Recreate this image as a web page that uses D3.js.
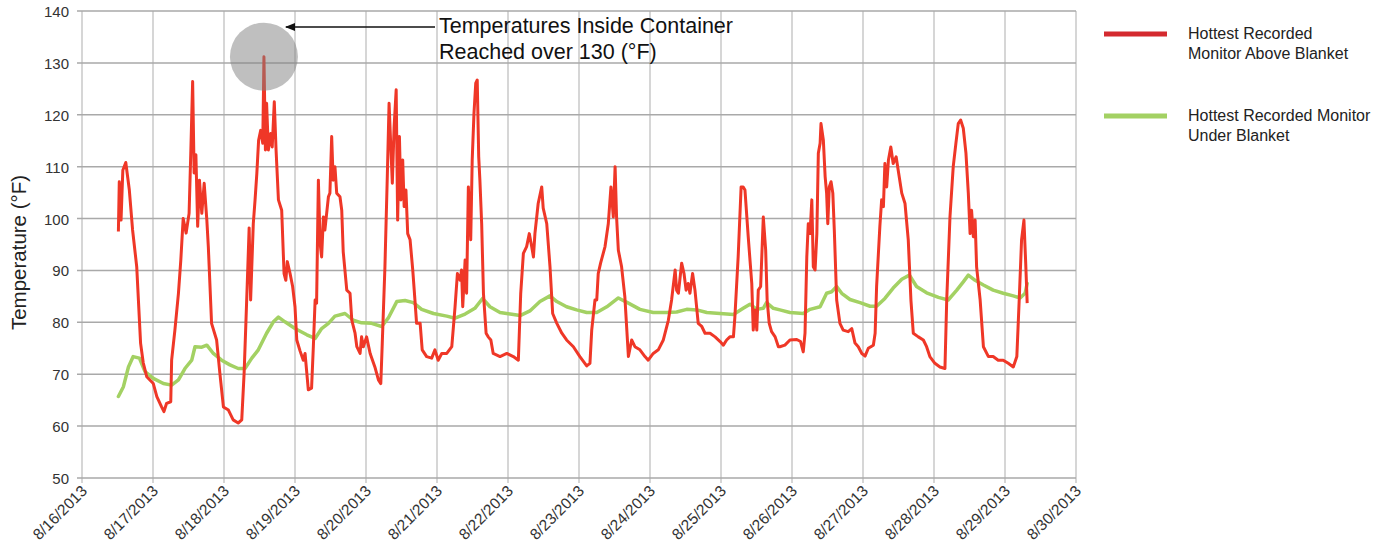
<!DOCTYPE html>
<html>
<head>
<meta charset="utf-8">
<script src="https://cdn.jsdelivr.net/npm/d3@7"></script>
<style>
  body { margin: 0; background: #fff; }
  svg { font-family: "Helvetica Neue", Helvetica, "Liberation Sans", Arial, sans-serif; }
</style>
</head>
<body>
<div id="chart"></div>
<script>
// hours since 8/16/2013 00:00, temperature (°F)
const startDate = new Date(2013, 7, 16);
const endDate = new Date(2013, 7, 30);
const yTicks = [50, 60, 70, 80, 90, 100, 110, 120, 130, 140];

const aboveBlanket = [
  [12.3, 97.5], [12.6, 107.1], [13.2, 99.7], [13.8, 109.3], [14.8, 110.8], [16.0, 105.5], [17.1, 97.8],
  [18.5, 90.7], [19.8, 76.0], [20.7, 72.2], [21.9, 69.5], [24.1, 68.2], [25.3, 65.7], [26.9, 63.7],
  [27.7, 62.8], [28.6, 64.4], [30.0, 64.7], [30.3, 72.7], [31.4, 78.5], [32.6, 85.6], [33.4, 92.0],
  [34.2, 100.0], [35.2, 97.2], [36.2, 101.0], [36.8, 113.2], [37.4, 126.4], [37.9, 108.8], [38.5, 112.3],
  [39.1, 98.5], [39.7, 107.4], [40.5, 101.0], [41.3, 106.8], [42.2, 99.7], [42.7, 94.6], [43.8, 79.8],
  [45.5, 76.6], [46.6, 70.2], [47.8, 63.7], [49.5, 63.1], [51.1, 61.2], [52.8, 60.6], [54.0, 61.2],
  [54.8, 70.2], [55.4, 79.9], [55.9, 88.1], [56.5, 98.2], [57.0, 84.3], [57.9, 99.0], [58.5, 103.6],
  [59.1, 108.7], [59.7, 115.1], [60.4, 117.0], [61.1, 114.5], [61.5, 131.2], [62.0, 113.2], [62.4, 122.2],
  [63.0, 113.2], [63.8, 116.4], [64.3, 113.8], [65.0, 122.5], [65.6, 113.2], [66.4, 103.6], [67.5, 101.6],
  [68.3, 89.4], [68.9, 88.1], [69.4, 91.7], [70.3, 89.5], [71.2, 86.9], [72.0, 83.0], [72.6, 76.6],
  [73.7, 74.5], [74.8, 72.7], [75.4, 74.0], [76.5, 67.0], [77.6, 67.3], [78.2, 75.3], [78.8, 84.3],
  [79.3, 83.7], [79.9, 107.4], [80.5, 95.2], [81.0, 92.6], [81.6, 100.3], [82.1, 97.8], [82.7, 101.0],
  [83.3, 104.2], [83.8, 104.9], [84.4, 115.8], [84.9, 107.4], [85.5, 110.0], [86.1, 104.9], [87.2, 104.2],
  [87.8, 101.6], [88.3, 93.6], [89.5, 86.2], [90.6, 85.6], [91.2, 80.4], [92.3, 77.9], [92.9, 75.3],
  [94.0, 74.0], [94.5, 77.2], [95.1, 75.3], [96.2, 77.2], [97.4, 74.0], [99.0, 71.4], [100.2, 68.9],
  [101.0, 68.2], [101.5, 76.0], [102.4, 90.7], [103.2, 108.1], [103.8, 122.2], [104.3, 115.1], [104.9, 106.8],
  [105.5, 117.7], [106.2, 124.8], [106.7, 99.7], [107.3, 115.8], [107.8, 103.6], [108.4, 111.3], [108.9, 102.3],
  [109.5, 105.5], [110.1, 97.1], [110.9, 95.9], [111.8, 90.1], [112.3, 86.2], [113.1, 79.8], [114.3, 79.8],
  [115.0, 74.7], [116.5, 73.4], [118.2, 73.1], [119.3, 74.7], [120.4, 72.7], [121.6, 74.0], [123.3, 74.0],
  [125.0, 75.3], [126.1, 83.0], [126.9, 89.4], [127.8, 88.1], [128.3, 90.1], [128.7, 83.0], [129.5, 92.0],
  [130.0, 85.6], [130.6, 106.1], [131.4, 95.9], [131.9, 111.3], [132.5, 120.3], [133.1, 126.1], [133.6, 126.7],
  [134.1, 111.9], [134.5, 107.4], [135.1, 99.0], [135.7, 85.6], [136.6, 77.9], [137.3, 77.2], [138.2, 76.6],
  [139.0, 74.0], [141.3, 73.4], [143.6, 74.0], [145.8, 73.4], [147.5, 72.7], [148.3, 85.6], [149.2, 93.3],
  [150.3, 94.6], [151.2, 97.1], [152.0, 94.6], [152.6, 92.6], [153.1, 97.1], [154.2, 102.9], [155.4, 106.1],
  [155.9, 102.0], [157.1, 99.0], [158.2, 90.7], [159.1, 81.7], [160.5, 79.8], [162.2, 77.9], [163.8, 76.6],
  [166.1, 75.3], [168.3, 73.4], [170.6, 71.6], [171.7, 72.1], [172.3, 78.5], [173.4, 84.3], [174.0, 84.3],
  [174.5, 89.4], [175.3, 91.4], [176.8, 94.6], [177.9, 99.0], [178.8, 106.1], [179.6, 100.3], [180.2, 110.0],
  [180.7, 100.3], [181.3, 93.9], [182.4, 90.7], [183.5, 84.9], [184.7, 73.4], [185.8, 76.6], [186.9, 75.3],
  [188.6, 74.7], [190.3, 73.4], [191.4, 72.7], [193.1, 74.0], [194.8, 74.7], [196.5, 76.6], [198.2, 80.4],
  [199.3, 84.3], [200.5, 90.1], [201.0, 86.2], [201.6, 85.6], [202.7, 91.4], [203.5, 89.4], [204.2, 86.2],
  [204.9, 87.5], [205.5, 85.6], [206.4, 89.4], [207.2, 86.2], [208.3, 79.8], [209.5, 79.2], [210.6, 77.9],
  [212.3, 77.9], [214.0, 77.2], [215.7, 76.3], [216.8, 75.6], [217.9, 76.6], [219.0, 77.2], [220.2, 77.2],
  [220.7, 81.1], [221.8, 92.6], [222.8, 106.1], [223.5, 106.1], [224.1, 105.5], [225.2, 96.5], [226.4, 87.5],
  [226.9, 78.5], [227.5, 82.4], [228.1, 78.5], [228.6, 86.2], [229.4, 86.9], [230.3, 100.3], [231.1, 93.9],
  [231.6, 84.3], [232.3, 79.8], [233.1, 78.2], [234.3, 77.2], [235.4, 75.3], [235.9, 75.3], [237.6, 75.6],
  [239.3, 76.6], [241.6, 76.7], [242.9, 76.3], [243.8, 74.3], [244.4, 77.9], [245.0, 92.6], [245.5, 99.0],
  [246.1, 97.1], [246.7, 103.6], [247.2, 90.7], [247.8, 90.1], [248.4, 97.1], [248.9, 112.6], [249.5, 114.5],
  [249.8, 118.3], [250.6, 115.1], [251.2, 108.1], [251.7, 104.9], [252.1, 99.0], [252.6, 106.1], [253.2, 107.1],
  [253.8, 104.9], [254.3, 97.8], [255.1, 84.3], [256.2, 79.8], [257.3, 78.5], [259.0, 78.2], [260.2, 78.8],
  [261.3, 76.0], [262.4, 75.3], [263.6, 74.0], [264.7, 73.5], [265.8, 75.0], [267.5, 75.6], [268.1, 77.9],
  [268.6, 86.9], [269.7, 98.5], [270.3, 103.6], [270.9, 102.3], [271.4, 110.6], [272.0, 106.1], [272.6, 111.3],
  [273.4, 113.8], [274.2, 110.6], [275.2, 111.9], [275.9, 109.3], [277.1, 104.9], [278.2, 102.9], [279.3, 95.9],
  [280.2, 84.3], [281.0, 77.9], [282.7, 77.2], [284.4, 76.6], [285.5, 75.3], [286.6, 73.4], [288.3, 72.1],
  [290.0, 71.4], [291.7, 71.1], [292.3, 84.3], [293.4, 100.3], [294.5, 110.0], [295.4, 114.5], [296.2, 118.3],
  [297.0, 119.0], [297.9, 117.4], [298.8, 112.6], [299.6, 104.9], [300.2, 97.1], [300.7, 101.6], [301.3, 96.5],
  [301.9, 99.7], [302.4, 90.7], [303.6, 84.3], [304.7, 75.3], [306.4, 73.4], [308.0, 73.4], [309.7, 72.7],
  [311.4, 72.7], [313.1, 72.1], [314.8, 71.4], [316.0, 73.4], [316.8, 84.3], [317.6, 95.9], [318.4, 99.7],
  [319.0, 91.4], [319.5, 83.7]
];

const underBlanket = [
  [12.3, 65.7], [14.0, 67.6], [15.7, 71.4], [17.3, 73.4], [19.4, 73.1], [21.3, 70.5], [24.1, 69.2],
  [27.5, 68.2], [30.3, 67.9], [32.6, 68.9], [34.8, 71.1], [37.1, 72.7], [38.2, 75.3], [40.5, 75.2],
  [42.2, 75.6], [44.4, 74.0], [47.2, 72.7], [50.0, 71.8], [52.8, 71.1], [55.1, 71.1], [57.4, 73.1],
  [59.6, 74.7], [62.4, 77.9], [64.7, 80.1], [66.4, 81.0], [68.6, 80.1], [72.0, 78.8], [76.0, 77.6],
  [78.8, 76.9], [81.0, 78.8], [83.3, 79.8], [85.5, 81.2], [88.9, 81.7], [91.7, 80.4], [94.5, 79.9],
  [97.9, 79.8], [101.3, 79.2], [103.5, 80.8], [106.4, 84.0], [109.2, 84.2], [112.0, 83.8], [114.8, 82.5],
  [118.8, 81.7], [123.3, 81.2], [126.1, 80.8], [129.5, 81.6], [132.8, 82.7], [135.4, 84.6], [137.9, 83.0],
  [141.3, 81.9], [144.7, 81.6], [148.1, 81.3], [151.4, 82.2], [154.8, 84.0], [158.2, 85.1], [160.5, 84.0],
  [163.8, 83.0], [167.2, 82.4], [170.6, 81.9], [174.0, 81.9], [177.4, 83.0], [181.3, 84.7], [184.7, 83.7],
  [188.6, 82.5], [193.1, 81.9], [197.6, 81.9], [201.0, 82.0], [204.4, 82.5], [207.8, 82.4], [211.2, 81.9],
  [215.7, 81.7], [220.2, 81.5], [223.5, 82.7], [225.8, 83.5], [228.1, 82.5], [230.3, 82.7], [231.4, 83.8],
  [233.7, 82.7], [235.9, 82.4], [239.3, 81.9], [243.8, 81.7], [246.1, 82.5], [249.5, 83.0], [251.7, 85.6],
  [253.4, 85.9], [255.1, 86.9], [256.8, 85.6], [259.6, 84.4], [263.0, 83.8], [266.4, 83.1], [268.6, 83.1],
  [271.4, 84.6], [274.2, 86.6], [277.1, 88.3], [279.7, 89.1], [282.1, 86.9], [285.5, 85.7], [289.5, 84.8],
  [292.8, 84.3], [295.7, 86.2], [297.9, 87.8], [299.6, 89.1], [301.9, 88.1], [304.7, 87.2], [308.0, 86.2],
  [311.4, 85.6], [314.8, 85.1], [317.1, 84.7], [318.8, 85.6], [319.5, 87.5]
];

const seriesNames = ["Hottest Recorded\nMonitor Above Blanket", "Hottest Recorded Monitor\nUnder Blanket"];
const peakNote = ["Temperatures Inside Container", "Reached over 130 (°F)"];

const W = 1394, H = 553;
const margin = { top: 11, left: 82, right: 318, bottom: 75 };
const innerW = W - margin.left - margin.right;
const innerH = H - margin.top - margin.bottom;

const toDate = h => new Date(startDate.getTime() + h * 3600000);

const svg = d3.select("#chart").append("svg")
    .attr("width", W)
    .attr("height", H);

const x = d3.scaleTime().domain([startDate, endDate]).range([margin.left, margin.left + innerW]);
const y = d3.scaleLinear().domain([50, 140]).range([margin.top + innerH, margin.top]);
const days = d3.timeDay.range(startDate, d3.timeDay.offset(endDate, 1));

// gridlines
svg.append("g").selectAll("line").data(days).join("line")
    .attr("x1", d => x(d)).attr("x2", d => x(d))
    .attr("y1", y(140)).attr("y2", y(50) + 5)
    .attr("stroke", "#c9c9c9").attr("stroke-width", 1.5);

svg.append("g").selectAll("line").data(yTicks).join("line")
    .attr("x1", x(startDate) - 5).attr("x2", x(endDate))
    .attr("y1", d => y(d)).attr("y2", d => y(d))
    .attr("stroke", "#a9a9a9").attr("stroke-width", 1.5);

// y tick labels
svg.append("g").selectAll("text").data(yTicks).join("text")
    .attr("x", x(startDate) - 13).attr("y", d => y(d) + 6)
    .attr("text-anchor", "end")
    .attr("font-size", 15).attr("fill", "#333")
    .text(d => d);

// x tick labels
const fmt = d3.timeFormat("%-m/%-d/%Y");
svg.append("g").selectAll("text").data(days).join("text")
    .attr("transform", d => `translate(${x(d) + 6},${y(50) + 14}) rotate(-45)`)
    .attr("text-anchor", "end")
    .attr("font-size", 15.5).attr("fill", "#333")
    .text(d => fmt(d));

svg.append("text")
    .attr("transform", `translate(26,${margin.top + innerH / 2 + 8}) rotate(-90)`)
    .attr("text-anchor", "middle")
    .attr("font-size", 20.5).attr("fill", "#222")
    .text("Temperature (°F)");

// lines
const line = d3.line().x(d => x(toDate(d[0]))).y(d => y(d[1]));

svg.append("path").datum(underBlanket)
    .attr("d", line)
    .attr("fill", "none").attr("stroke", "#a3d163").attr("stroke-width", 3.5)
    .attr("stroke-linejoin", "round").attr("stroke-linecap", "round");

svg.append("path").datum(aboveBlanket)
    .attr("d", line)
    .attr("fill", "none").attr("stroke", "#ef3727").attr("stroke-width", 3)
    .attr("stroke-linejoin", "round");

// annotation circle around the peak
const peak = aboveBlanket.reduce((a, b) => (b[1] > a[1] ? b : a));
svg.append("circle")
    .attr("cx", x(toDate(peak[0]))).attr("cy", y(peak[1]))
    .attr("r", 34)
    .attr("fill", "#7f7f7f").attr("fill-opacity", 0.5);

svg.append("defs").append("marker")
    .attr("id", "arrow").attr("viewBox", "0 0 10 10")
    .attr("refX", 9).attr("refY", 5)
    .attr("markerWidth", 7).attr("markerHeight", 7)
    .attr("orient", "auto")
    .append("path").attr("d", "M0,1L10,5L0,9Z").attr("fill", "#111");

svg.append("line")
    .attr("x1", 435).attr("x2", x(toDate(peak[0])) + 22)
    .attr("y1", 27).attr("y2", 27)
    .attr("stroke", "#111").attr("stroke-width", 1.5)
    .attr("marker-end", "url(#arrow)");

svg.append("text")
    .attr("x", 439).attr("y", 33)
    .attr("font-size", 21.5).attr("fill", "#111")
    .selectAll("tspan").data(peakNote).join("tspan")
    .attr("x", 439).attr("dy", (d, i) => i ? 26 : 0)
    .text(d => d);

// legend
const legend = svg.append("g");
const legendColors = ["#d42a2f", "#a3d163"];
seriesNames.forEach((name, i) => {
    const ly = 34 + i * 82;
    legend.append("line")
        .attr("x1", 1104).attr("x2", 1167)
        .attr("y1", ly).attr("y2", ly)
        .attr("stroke", legendColors[i]).attr("stroke-width", 5);
    legend.append("text")
        .attr("x", 1188).attr("y", ly + 5)
        .attr("font-size", 16).attr("fill", "#222")
        .selectAll("tspan").data(name.split("\n")).join("tspan")
        .attr("x", 1188).attr("dy", (d, j) => j ? 20 : 0)
        .text(d => d);
});
</script>
</body>
</html>
